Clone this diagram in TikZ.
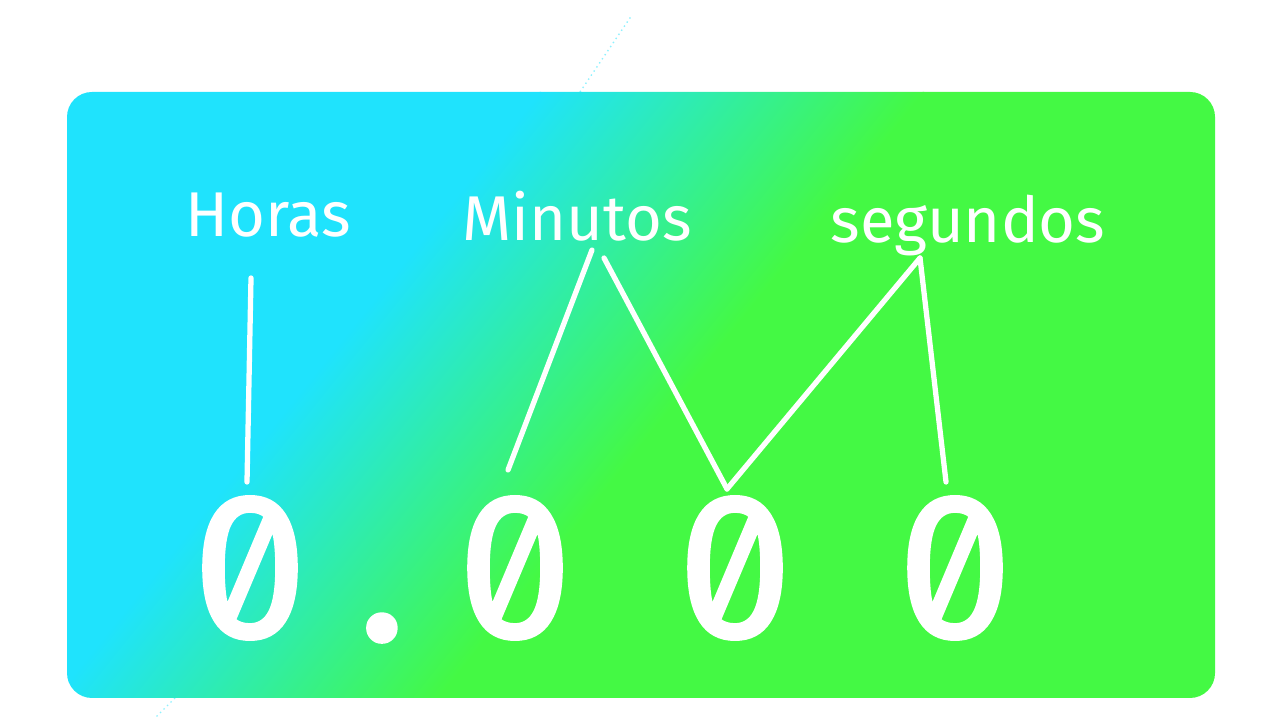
\documentclass[tikz,border=0pt]{standalone}
\usepackage{fontspec}
\setmainfont{Fira Sans}
\newfontfamily\digitfont[RawFeature=+zero, FakeBold=1.3]{Fira Sans}
\usetikzlibrary{calc}

\definecolor{clockcyan}{RGB}{31,227,253}
\definecolor{clockgreen}{RGB}{68,249,68}

\tikzset{
  lbl/.style={text=white, font=\fontsize{18}{20}\selectfont, inner sep=0, anchor=base},
  digit/.style={text=white, font=\digitfont\fontsize{59}{64}\selectfont, inner sep=0},
  link/.style={white, line width=1.5pt, line cap=round},
}

\begin{document}
\begin{tikzpicture}
    \useasboundingbox (0,0) rectangle (12.8,7.2);
    % faint dots outside the panel
    \draw[clockcyan!50, densely dotted, line width=0.4pt] (5.80,6.28) -- (6.32,7.05);
    \draw[clockcyan!50, densely dotted, line width=0.4pt] (1.75,0.22) -- (1.55,0.02);

    % Panel with diagonal gradient
    \begin{scope}
        \clip[rounded corners=0.25cm] (0.67,0.22) rectangle (12.15,6.28);
        \begin{scope}[transform canvas={rotate around={-38.7:(4.85,3.2)}}]
            \fill[clockcyan] (-6,-8) rectangle (3.36,14);
            \fill[clockgreen] (6.34,-8) rectangle (16,14);
            \shade[left color=clockcyan, right color=clockgreen] (3.35,-8) rectangle (6.35,14);
        \end{scope}
    \end{scope}

    % Labels
    \node[lbl] (hrs) at (2.68,4.83) {Horas};
    \node[lbl] (min) at (5.77,4.79) {Minutos};
    \node[lbl] (seg) at (9.68,4.77) {segundos};

    % Digits
    \node[digit] (d1) at (2.50,1.52) {0};
    \node[digit, anchor=base] (pt) at (3.82,0.80) {.};
    \node[digit] (d2) at (5.15,1.52) {0};
    \node[digit] (d3) at (7.35,1.52) {0};
    \node[digit] (d4) at (9.55,1.52) {0};

    % Connectors
    \draw[link] ($(hrs.base)+(-0.17,-0.41)$) -- ($(d1)+(-0.03,0.86)$);
    \draw[link] ($(min.base)+(0.15,-0.09)$) -- ($(d2)+(-0.07,0.98)$);
    \draw[link] ($(min.base)+(0.27,-0.17)$) -- ($(d3)+(-0.08,0.79)$);
    \draw[link] ($(seg.base)+(-0.48,-0.15)$) -- ($(d3)+(-0.08,0.79)$);
    \draw[link] ($(seg.base)+(-0.48,-0.15)$) -- ($(d4)+(-0.09,0.86)$);
\end{tikzpicture}
\end{document}
